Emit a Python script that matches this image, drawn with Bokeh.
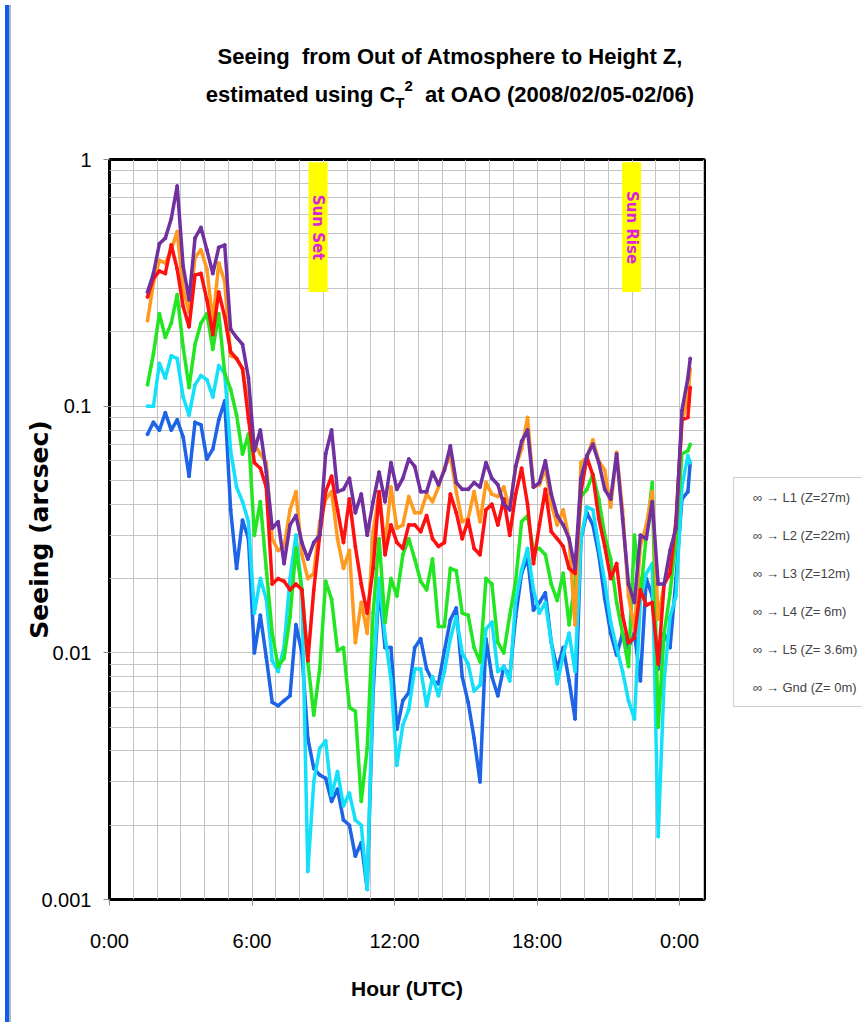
import math
from bokeh.plotting import figure
from bokeh.models import (Range1d, FixedTicker, CustomJSTickFormatter, Label, Legend,
                          LegendItem, Div)
from bokeh.layouts import row, column
from bokeh.embed import file_html
from bokeh.resources import INLINE

# ---------------- data ----------------
hours = [1.6, 1.85, 2.1, 2.35, 2.6, 2.85, 3.1, 3.35, 3.6, 3.85, 4.1, 4.35, 4.6, 4.85,
         5.1, 5.35, 5.6, 5.85, 6.1, 6.35, 6.6, 6.85, 7.1, 7.35, 7.6, 7.85, 8.1, 8.35,
         8.6, 8.85, 9.1, 9.35, 9.6, 9.85, 10.1, 10.35, 10.6, 10.85, 11.1, 11.35, 11.6,
         11.85, 12.1, 12.35, 12.6, 12.85, 13.1, 13.35, 13.6, 13.85, 14.1, 14.35, 14.6,
         14.85, 15.1, 15.35, 15.6, 15.85, 16.1, 16.35, 16.6, 16.85, 17.1, 17.35, 17.6,
         17.85, 18.1, 18.35, 18.6, 18.85, 19.1, 19.35, 19.6, 19.85, 20.1, 20.35, 20.6,
         20.85, 21.1, 21.35, 21.6, 21.85, 22.1, 22.35, 22.6, 22.85, 23.1, 23.35, 23.6,
         23.85, 24.1, 24.35, 24.45]

seeing_L1 = [0.077, 0.086, 0.08, 0.094, 0.08, 0.088, 0.075, 0.052, 0.086, 0.084, 0.061,
             0.067, 0.088, 0.105, 0.038, 0.022, 0.0345, 0.029, 0.010, 0.0142, 0.0096,
             0.0063, 0.0061, 0.0064, 0.0067, 0.013, 0.010, 0.0045, 0.0034, 0.0032, 0.0031,
             0.0025, 0.0028, 0.0021, 0.002, 0.0015, 0.0017, 0.0011, 0.007, 0.0186, 0.0105,
             0.0105, 0.0049, 0.0064, 0.0069, 0.0105, 0.0114, 0.0086, 0.0077, 0.0075,
             0.0102, 0.0136, 0.0152, 0.008, 0.0063, 0.0045, 0.003, 0.0114, 0.008, 0.0067,
             0.0088, 0.008, 0.014, 0.021, 0.0243, 0.0149, 0.016, 0.0175, 0.011, 0.0086,
             0.0105, 0.0077, 0.0054, 0.029, 0.037, 0.033, 0.025, 0.0166, 0.012, 0.0098,
             0.012, 0.0105, 0.012, 0.0077, 0.020, 0.017, 0.0086, 0.012, 0.0105, 0.020,
             0.042, 0.045, 0.059]

seeing_L2 = [0.10, 0.10, 0.149, 0.13, 0.16, 0.156, 0.109, 0.092, 0.122, 0.133, 0.128,
             0.109, 0.146, 0.136, 0.066, 0.047, 0.041, 0.034, 0.0145, 0.02, 0.0165,
             0.0093, 0.0084, 0.0106, 0.020, 0.030, 0.018, 0.0013, 0.003, 0.0041, 0.0044,
             0.00265, 0.0033, 0.0024, 0.0027, 0.0021, 0.002, 0.0011, 0.008, 0.020, 0.0117,
             0.0078, 0.0035, 0.0051, 0.0059, 0.0086, 0.0086, 0.0061, 0.008, 0.0067,
             0.0084, 0.0114, 0.014, 0.010, 0.009, 0.007, 0.0074, 0.0125, 0.0133, 0.0084,
             0.0088, 0.0077, 0.0163, 0.0217, 0.0265, 0.018, 0.0145, 0.016, 0.011, 0.0075,
             0.0098, 0.012, 0.0084, 0.029, 0.039, 0.038, 0.027, 0.0195, 0.0133, 0.0105,
             0.0084, 0.0064, 0.0054, 0.0163, 0.021, 0.023, 0.0018, 0.0077, 0.014, 0.017,
             0.047, 0.063, 0.059]

seeing_L3 = [0.122, 0.163, 0.237, 0.19, 0.217, 0.283, 0.174, 0.119, 0.178, 0.217, 0.237,
             0.17, 0.237, 0.136, 0.117, 0.092, 0.064, 0.077, 0.030, 0.041, 0.022, 0.012,
             0.0088, 0.0095, 0.014, 0.0265, 0.018, 0.0092, 0.0056, 0.0086, 0.0195, 0.0165,
             0.0102, 0.0105, 0.006, 0.0058, 0.0025, 0.0041, 0.0145, 0.029, 0.0133, 0.020,
             0.017, 0.025, 0.029, 0.024, 0.0195, 0.018, 0.024, 0.0128, 0.0128, 0.022,
             0.0215, 0.0145, 0.0142, 0.0105, 0.0092, 0.020, 0.019, 0.011, 0.010, 0.0142,
             0.0195, 0.034, 0.036, 0.026, 0.0265, 0.025, 0.019, 0.0163, 0.021, 0.013,
             0.0195, 0.043, 0.046, 0.053, 0.042, 0.030, 0.024, 0.016, 0.012, 0.0088, 0.03,
             0.017, 0.030, 0.049, 0.005, 0.012, 0.0175, 0.029, 0.064, 0.066, 0.070]

seeing_L4 = [0.222, 0.316, 0.39, 0.38, 0.43, 0.51, 0.30, 0.24, 0.40, 0.43, 0.36, 0.22,
             0.38, 0.32, 0.16, 0.156, 0.142, 0.10, 0.07, 0.064, 0.059, 0.029, 0.026, 0.027,
             0.038, 0.045, 0.025, 0.020, 0.021, 0.034, 0.042, 0.045, 0.029, 0.022, 0.026,
             0.011, 0.016, 0.012, 0.031, 0.045, 0.027, 0.047, 0.032, 0.033, 0.043, 0.037,
             0.037, 0.044, 0.041, 0.047, 0.056, 0.063, 0.045, 0.034, 0.035, 0.045, 0.034,
             0.049, 0.044, 0.043, 0.047, 0.038, 0.057, 0.067, 0.09, 0.047, 0.048, 0.056,
             0.040, 0.033, 0.038, 0.029, 0.013, 0.059, 0.062, 0.073, 0.060, 0.055, 0.039,
             0.065, 0.038, 0.017, 0.0125, 0.027, 0.033, 0.045, 0.0137, 0.019, 0.022, 0.033,
             0.086, 0.11, 0.142]

seeing_L5 = [0.277, 0.33, 0.353, 0.345, 0.45, 0.36, 0.254, 0.21, 0.34, 0.345, 0.27, 0.195,
             0.29, 0.23, 0.166, 0.156, 0.142, 0.089, 0.059, 0.056, 0.047, 0.019, 0.020,
             0.0195, 0.018, 0.019, 0.018, 0.0093, 0.018, 0.030, 0.045, 0.052, 0.038, 0.028,
             0.042, 0.027, 0.019, 0.0145, 0.022, 0.045, 0.025, 0.033, 0.028, 0.0265, 0.033,
             0.033, 0.031, 0.036, 0.029, 0.027, 0.028, 0.044, 0.037, 0.029, 0.0345, 0.0265,
             0.025, 0.038, 0.040, 0.033, 0.042, 0.030, 0.044, 0.056, 0.040, 0.023, 0.033,
             0.046, 0.031, 0.029, 0.027, 0.022, 0.021, 0.045, 0.062, 0.0525, 0.035, 0.027,
             0.020, 0.023, 0.0142, 0.011, 0.0115, 0.018, 0.0156, 0.016, 0.009, 0.019, 0.021,
             0.0345, 0.088, 0.09, 0.119]

seeing_Gnd = [0.29, 0.345, 0.455, 0.48, 0.575, 0.78, 0.37, 0.27, 0.48, 0.53, 0.43, 0.345,
              0.44, 0.45, 0.205, 0.19, 0.178, 0.13, 0.066, 0.08, 0.054, 0.032, 0.034, 0.023,
              0.033, 0.036, 0.028, 0.024, 0.028, 0.030, 0.064, 0.08, 0.045, 0.046, 0.051,
              0.037, 0.044, 0.030, 0.041, 0.054, 0.041, 0.059, 0.046, 0.051, 0.061, 0.057,
              0.045, 0.045, 0.054, 0.048, 0.055, 0.069, 0.049, 0.046, 0.046, 0.049, 0.047,
              0.059, 0.051, 0.048, 0.040, 0.038, 0.057, 0.072, 0.08, 0.047, 0.049, 0.06,
              0.044, 0.036, 0.033, 0.029, 0.022, 0.051, 0.063, 0.07, 0.059, 0.046, 0.042,
              0.064, 0.035, 0.019, 0.016, 0.030, 0.029, 0.041, 0.019, 0.019, 0.026, 0.032,
              0.096, 0.13, 0.156]

series_labels = ["\u221e \u2192 L1 (Z=27m)", "\u221e \u2192 L2 (Z=22m)",
                 "\u221e \u2192 L3 (Z=12m)", "\u221e \u2192 L4 (Z= 6m)",
                 "\u221e \u2192 L5 (Z= 3.6m)", "\u221e \u2192 Gnd (Z= 0m)"]
series_values = [seeing_L1, seeing_L2, seeing_L3, seeing_L4, seeing_L5, seeing_Gnd]
series_colors = ["#1E64E6", "#14E0FA", "#22E622", "#FF9A1F", "#FF1010", "#7030A0"]

x_tick_hours = [0, 6, 12, 18, 24]
x_tick_labels = ["0:00", "6:00", "12:00", "18:00", "0:00"]
y_tick_values = [0.001, 0.01, 0.1, 1]
y_tick_labels = ["0.001", "0.01", "0.1", "1"]

sun_events = ["Sun Set", "Sun Rise"]
sun_hours = [8.78, 21.98]

# ---------------- layout constants ----------------
SANS = "Liberation Sans"
TITLE_H = 118
LEG_W = 156
PLOT_H = 1017 - TITLE_H

p = figure(width=846 - LEG_W, height=PLOT_H, x_range=Range1d(0, 25.05),
           y_range=Range1d(0.001, 1), y_axis_type="log", output_backend="svg",
           toolbar_location=None, title=None,
           min_border_left=93, min_border_right=2, min_border_top=149 - TITLE_H,
           min_border_bottom=128)
p.background_fill_color = "white"
p.border_fill_color = "white"
p.outline_line_color = "black"
p.outline_line_width = 3

p.xgrid.ticker = FixedTicker(ticks=list(range(0, 26)))
p.ygrid.ticker = FixedTicker(ticks=[m * 10.0 ** e for e in (-3, -2, -1) for m in range(1, 10)] + [1.0])
p.grid.grid_line_color = "#c4c4c4"
p.grid.grid_line_width = 1

p.xaxis.ticker = FixedTicker(ticks=x_tick_hours, minor_ticks=[])
p.xaxis.major_label_overrides = dict(zip(x_tick_hours, x_tick_labels))
p.yaxis.ticker = FixedTicker(ticks=y_tick_values, minor_ticks=[])
p.yaxis.formatter = CustomJSTickFormatter(
    args=dict(vals=y_tick_values, labs=y_tick_labels),
    code="""for (let i = 0; i < vals.length; i++) {
              if (Math.abs(Math.log10(tick) - Math.log10(vals[i])) < 1e-6) return labs[i];
            }
            return '';""")
for ax in p.axis:
    ax.axis_line_color = None
    ax.major_tick_line_color = "#8c8c8c"
    ax.major_tick_out = 6
    ax.major_tick_in = 0
    ax.minor_tick_line_color = None
    ax.major_label_text_font = SANS
    ax.major_label_text_font_size = "20px"
    ax.major_label_text_color = "black"
p.xaxis.major_label_standoff = 24
p.yaxis.major_label_standoff = 12

p.xaxis.axis_label = "Hour (UTC)"
p.xaxis.axis_label_text_font = SANS
p.xaxis.axis_label_text_font_style = "bold"
p.xaxis.axis_label_text_font_size = "21px"
p.xaxis.axis_label_text_color = "black"
p.xaxis.axis_label_standoff = 22

p.yaxis.axis_label = "Seeing (arcsec)"
p.yaxis.axis_label_text_font = "DejaVu Sans"
p.yaxis.axis_label_text_font_style = "bold"
p.yaxis.axis_label_text_font_size = "25px"
p.yaxis.axis_label_text_color = "black"
p.yaxis.axis_label_standoff = -16

# sunset / sunrise markers
p.quad(left=[h - 0.4 for h in sun_hours], right=[h + 0.4 for h in sun_hours],
       bottom=0.29, top=0.975, fill_color="#FFFF00", line_color=None)
for name, h in zip(sun_events, sun_hours):
    p.add_layout(Label(x=h, y=0.53, text=name, angle=-math.pi / 2, text_align="center",
                       text_baseline="middle", text_color="#DD22DD",
                       text_font="DejaVu Sans", text_font_style="bold",
                       text_font_size="15px"))

# series
for vals, col in zip(series_values, series_colors):
    p.line(hours, vals, line_color=col, line_width=3.5, line_join="round")
    p.scatter(hours, vals, size=3, color=col, marker="circle")

# ---------------- legend (own small canvas beside the plot) ----------------
lf = figure(width=LEG_W, height=PLOT_H, x_range=Range1d(0, 1), y_range=Range1d(0, 1),
            output_backend="svg", toolbar_location=None, title=None,
            min_border=0, outline_line_color=None)
lf.axis.visible = False
lf.grid.visible = False
lf.background_fill_color = "white"
lf.border_fill_color = "white"
items = []
for lab, col in zip(series_labels, series_colors):
    r = lf.scatter([], [], size=3, color=col, marker="circle")
    items.append(LegendItem(label=lab, renderers=[r]))
# the legend canvas frame is aligned with the main plot frame (page y 157..897)
legend = Legend(items=items, location=(27, 192), orientation="vertical",
                border_line_color="#a0a0a0", border_line_width=1,
                background_fill_color="white", background_fill_alpha=1.0,
                padding=9, spacing=18, margin=0,
                label_text_font=SANS, label_text_font_size="13px",
                label_height=20, glyph_height=20, glyph_width=5, label_standoff=5)
lf.add_layout(legend)

title_html = (
    '<div style="box-sizing:border-box;width:846px;font-family:\'Liberation Sans\',Arial,sans-serif;'
    'font-weight:bold;font-size:22px;line-height:38px;text-align:center;padding-top:33px;'
    'padding-left:12px;color:black;white-space:pre;">'
    'Seeing  from Out of Atmosphere to Height Z,<br>'
    'estimated using C<span style="font-size:15px;position:relative;top:6px;">T</span>'
    '<span style="font-size:15px;position:relative;top:-11px;">2</span>'
    '  at OAO (2008/02/05-02/06)</div>')
title_div = Div(text=title_html, width=846, height=TITLE_H)

strip = Div(width=6, height=1017,
            styles={"background": "linear-gradient(to right, #0b5cf0 0px, #0b5cf0 4px, #b4b4b4 4px, #b4b4b4 6px)"})
layout = row(strip, column(title_div, row(p, lf)))

open("out.html", "w").write(file_html(layout, INLINE))
